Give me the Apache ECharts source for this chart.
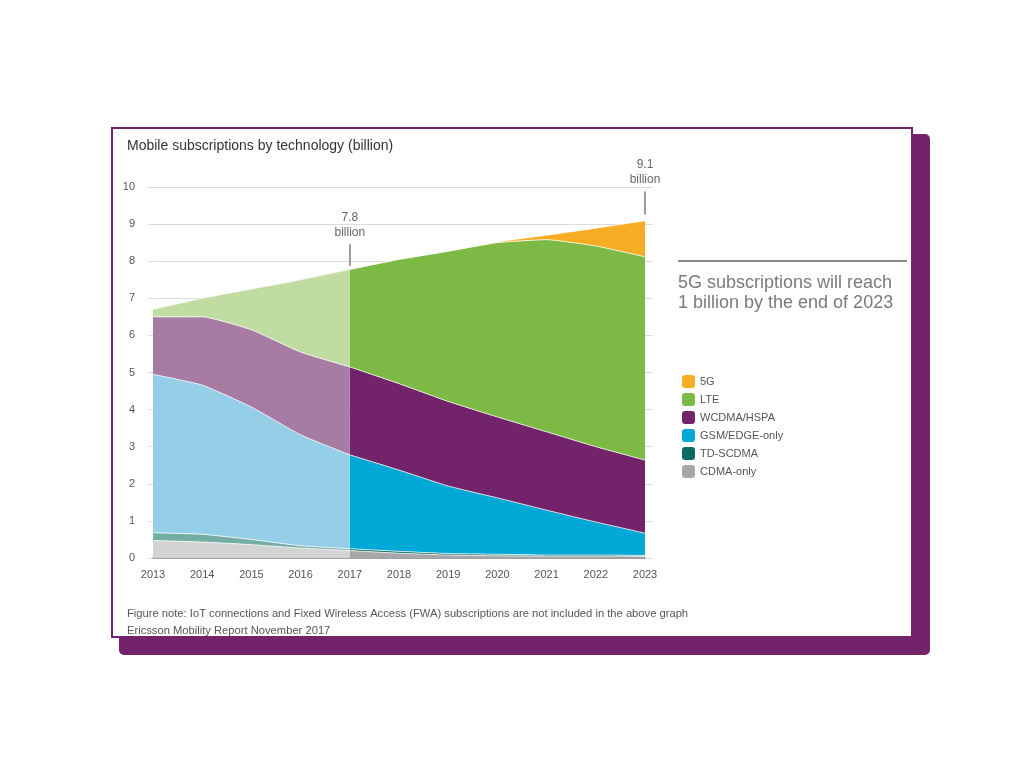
<!DOCTYPE html>
<html>
<head>
<meta charset="utf-8">
<title>Mobile subscriptions by technology</title>
<script src="https://cdn.jsdelivr.net/npm/echarts@6/dist/echarts.min.js"></script>
<style>
  html, body { margin: 0; padding: 0; background: #fff; }
  #chart { width: 1024px; height: 768px; }
</style>
</head>
<body>
<div id="chart"></div>
<script>
// values (billion subscriptions, layer thickness)
const years = ['2013', '2014', '2015', '2016', '2017', '2018', '2019', '2020', '2021', '2022', '2023']
const cdmaOnly = [0.47, 0.43, 0.36, 0.27, 0.20, 0.13, 0.08, 0.06, 0.05, 0.05, 0.05]
const tdScdma = [0.21, 0.21, 0.14, 0.06, 0.05, 0.05, 0.04, 0.04, 0.03, 0.03, 0.02]
const gsmEdge = [4.27, 4.02, 3.57, 2.99, 2.53, 2.19, 1.82, 1.52, 1.21, 0.89, 0.60]
const wcdma = [1.55, 1.84, 2.08, 2.23, 2.37, 2.33, 2.28, 2.18, 2.11, 2.03, 1.97]
const lte = [0.20, 0.50, 1.10, 1.95, 2.63, 3.35, 4.05, 4.70, 5.18, 5.41, 5.48]
const fiveG = [0, 0, 0, 0, 0, 0, 0, 0.02, 0.12, 0.48, 0.97]
const yTicks = [0, 1, 2, 3, 4, 5, 6, 7, 8, 9, 10]
const lastActual = 4 // 2017, forecast starts here

const purple = '#722369'
const layers = [
  { name: 'CDMA-only', data: cdmaOnly, color: '#a7a7a9', light: '#d3d3d4' },
  { name: 'TD-SCDMA', data: tdScdma, color: '#0d6a60', light: '#73ada4' },
  { name: 'GSM/EDGE-only', data: gsmEdge, color: '#00a8d5', light: '#94cee7' },
  { name: 'WCDMA/HSPA', data: wcdma, color: '#722369', light: '#a67ca5' },
  { name: 'LTE', data: lte, color: '#7dba45', light: '#c1dca2' },
  { name: '5G', data: fiveG, color: '#f6ad24', light: '#f9d38a' },
]

const slice = (arr, from, to) => arr.map((v, i) => (i >= from && i <= to ? v : '-'))

const baseSeries = (stack) => ({
  type: 'line',
  stack,
  smooth: 0.15,
  symbol: 'none',
  clip: false,
  lineStyle: { width: 1, color: 'rgba(255,255,255,0.75)' },
})

const forecast = layers.map(l => ({
  ...baseSeries('forecast'),
  name: l.name,
  data: slice(l.data, lastActual, years.length - 1),
  itemStyle: { color: l.color },
  areaStyle: { color: l.color, opacity: 1 },
}))

const history = layers.filter(l => l.name !== '5G').map(l => ({
  ...baseSeries('history'),
  name: l.name + ' (actual)',
  data: slice(l.data, 0, lastActual),
  itemStyle: { color: l.light },
  areaStyle: { color: l.light, opacity: 1 },
}))

// annotation ticks with labels
const annotations = {
  type: 'line',
  name: 'annotations',
  data: [],
  clip: false,
  silent: true,
  markLine: {
    symbol: 'none',
    silent: true,
    lineStyle: { color: '#9a9a9a', width: 2, type: 'solid' },
    label: {
      position: 'end',
      distance: 4,
      color: '#666',
      fontSize: 12,
      lineHeight: 15,
      fontFamily: 'Liberation Sans, Arial, sans-serif',
    },
    data: [
      [{ coord: ['2017', 7.88], label: { formatter: '7.8\nbillion' } }, { coord: ['2017', 8.46] }],
      [{ coord: ['2023', 9.26], label: { formatter: '9.1\nbillion' } }, { coord: ['2023', 9.88] }],
    ],
  },
}

const font = 'Liberation Sans, Arial, sans-serif'
const chart = echarts.init(document.getElementById('chart'))

chart.setOption({
  backgroundColor: '#fff',
  animation: false,
  textStyle: { fontFamily: font },
  title: {
    text: 'Mobile subscriptions by technology (billion)',
    left: 122,
    top: 134,
    textStyle: { fontSize: 14, fontWeight: 'normal', color: '#333', fontFamily: font },
  },
  graphic: [
    { type: 'rect', z: -10, shape: { x: 119, y: 134, width: 811, height: 521, r: 5 }, style: { fill: purple } },
    { type: 'rect', z: -9, shape: { x: 112, y: 128, width: 800, height: 509 }, style: { fill: '#fff', stroke: purple, lineWidth: 2 } },
    { type: 'rect', z: 5, shape: { x: 678, y: 260, width: 229, height: 2 }, style: { fill: '#8a8a8a' } },
    {
      type: 'text', z: 5, left: 678, top: 273,
      style: { text: '5G subscriptions will reach\n1 billion by the end of 2023', fontSize: 18, lineHeight: 20, fill: '#7a7a7a', fontFamily: font },
    },
    {
      type: 'text', z: 5, left: 127, top: 605,
      style: {
        text: 'Figure note: IoT connections and Fixed Wireless Access (FWA) subscriptions are not included in the above graph\nEricsson Mobility Report November 2017',
        fontSize: 11.2, lineHeight: 17, fill: '#555', fontFamily: font,
      },
    },
  ],
  legend: {
    data: ['5G', 'LTE', 'WCDMA/HSPA', 'GSM/EDGE-only', 'TD-SCDMA', 'CDMA-only'],
    orient: 'vertical',
    left: 677,
    top: 370,
    icon: 'roundRect',
    itemWidth: 13,
    itemHeight: 13,
    itemGap: 5,
    lineStyle: { width: 0, opacity: 0 },
    textStyle: { fontSize: 11, color: '#555', fontFamily: font },
    selectedMode: false,
  },
  grid: { left: 153, right: 379, top: 187, bottom: 210 },
  xAxis: {
    type: 'category',
    data: years,
    boundaryGap: false,
    axisLine: { lineStyle: { color: '#a0a0a0', width: 2 } },
    axisTick: { show: false },
    axisLabel: { color: '#555', fontSize: 11, margin: 11 },
  },
  yAxis: [
    {
      type: 'value',
      min: yTicks[0],
      max: yTicks[yTicks.length - 1],
      interval: 1,
      axisLine: { show: false },
      axisTick: { show: true, length: 5, lineStyle: { color: '#ddd' } },
      axisLabel: { color: '#555', fontSize: 11, margin: 18 },
      splitLine: { lineStyle: { color: '#dcdcdc', width: 1 } },
    },
    {
      type: 'value',
      position: 'right',
      min: yTicks[0],
      max: yTicks[yTicks.length - 1],
      interval: 1,
      axisLine: { show: false },
      axisTick: { show: true, length: 8, lineStyle: { color: '#ddd' } },
      axisLabel: { show: false },
      splitLine: { show: false },
    },
  ],
  series: [...forecast, ...history, annotations],
})
</script>
</body>
</html>
